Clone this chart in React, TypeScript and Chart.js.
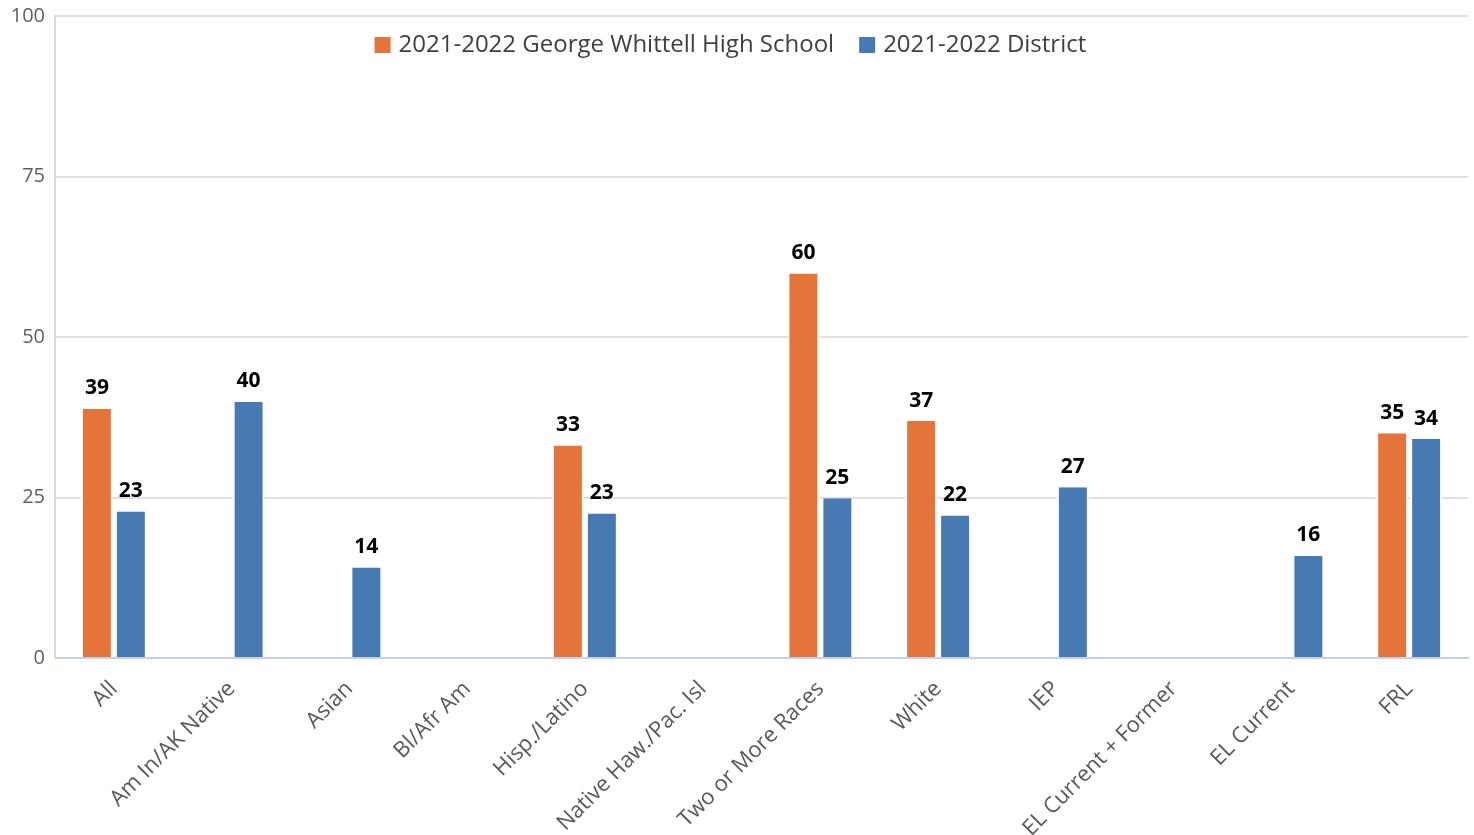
import React, { useEffect, useRef } from "react";
import { Chart, registerables } from "chart.js";

Chart.register(...registerables);

const categories = [
  "All",
  "Am In/AK Native",
  "Asian",
  "Bl/Afr Am",
  "Hisp./Latino",
  "Native Haw./Pac. Isl",
  "Two or More Races",
  "White",
  "IEP",
  "EL Current + Former",
  "EL Current",
  "FRL",
];
const schoolLabel = "2021-2022 George Whittell High School";
const districtLabel = "2021-2022 District";
const schoolValues: (number | null)[] = [38.8, null, null, null, 33.1, null, 59.9, 36.9, null, null, null, 35.0];
const districtValues: (number | null)[] = [22.8, 39.9, 14.1, null, 22.5, null, 24.9, 22.2, 26.6, null, 15.9, 34.1];
const yTicks = [0, 25, 50, 75, 100];

const ORANGE = "#E4743A";
const BLUE = "#477AB3";
const FONT = "'Open Sans', 'Noto Sans', sans-serif";

const dataLabelPlugin = {
  id: "dataLabels",
  afterDatasetsDraw(chart: any) {
    const ctx = chart.ctx;
    ctx.save();
    ctx.font = `bold 21px ${FONT}`;
    ctx.fillStyle = "#000";
    ctx.textAlign = "center";
    ctx.textBaseline = "bottom";
    chart.data.datasets.forEach((ds: any, di: number) => {
      const meta = chart.getDatasetMeta(di);
      meta.data.forEach((bar: any, i: number) => {
        const v = ds.data[i];
        if (v == null) return;
        ctx.fillText(String(Math.round(v)), bar.x, bar.y - 10);
      });
    });
    ctx.restore();
  },
};

const legendPlugin = {
  id: "customLegend",
  afterDraw(chart: any) {
    const ctx = chart.ctx;
    const area = chart.chartArea;
    ctx.save();
    ctx.font = `24px ${FONT}`;
    const items = [
      { label: schoolLabel, color: ORANGE },
      { label: districtLabel, color: BLUE },
    ];
    const box = 16;
    const boxGap = 8;
    const itemGap = 25;
    const widths = items.map((it) => box + boxGap + ctx.measureText(it.label).width);
    const total = widths.reduce((a, b) => a + b, 0) + itemGap * (items.length - 1);
    const cx = area.left + (area.right - area.left) * 0.478;
    let x = cx - total / 2;
    const y = area.top + 29;
    items.forEach((it, i) => {
      ctx.fillStyle = it.color;
      ctx.fillRect(x, y - box / 2, box, box);
      ctx.fillStyle = "#404040";
      ctx.textBaseline = "middle";
      ctx.textAlign = "left";
      ctx.fillText(it.label, x + box + boxGap, y);
      x += widths[i] + itemGap;
    });
    ctx.restore();
  },
};

const barBorder = { top: 0, bottom: 0, left: 2, right: 2 };

export default function App() {
  const ref = useRef<HTMLCanvasElement>(null);
  useEffect(() => {
    if (!ref.current) return;
    const chart = new Chart(ref.current, {
      type: "bar",
      data: {
        labels: categories,
        datasets: [
          {
            label: schoolLabel,
            data: schoolValues,
            backgroundColor: ORANGE,
            borderColor: "#ffffff",
            borderWidth: barBorder,
            borderSkipped: false,
            barPercentage: 0.94,
            categoryPercentage: 0.577,
          },
          {
            label: districtLabel,
            data: districtValues,
            backgroundColor: BLUE,
            borderColor: "#ffffff",
            borderWidth: barBorder,
            borderSkipped: false,
            barPercentage: 0.94,
            categoryPercentage: 0.577,
          },
        ],
      },
      options: {
        animation: false,
        responsive: false,
        maintainAspectRatio: false,
        layout: { padding: { top: 16, right: 6, left: 0, bottom: 0 } },
        plugins: {
          legend: { display: false },
          tooltip: { enabled: false },
        },
        scales: {
          x: {
            grid: { display: false, drawTicks: false },
            border: { display: true, color: "#C7D1E5", width: 2 },
            ticks: {
              color: "#595959",
              font: { family: FONT, size: 22 },
              minRotation: 45,
              maxRotation: 45,
              autoSkip: false,
              padding: 18,
            },
            afterFit(scale: any) {
              scale.height = 177;
              scale.paddingLeft = 0;
              scale.paddingRight = 0;
            },
          },
          y: {
            min: 0,
            max: 100,
            afterBuildTicks(scale: any) {
              scale.ticks = yTicks.map((v) => ({ value: v }));
            },
            grid: { color: "#E0E0E0", lineWidth: 2, drawTicks: false },
            border: { display: true, color: "#D9D9D9", width: 2 },
            ticks: {
              color: "#606060",
              font: { family: FONT, size: 20 },
              padding: 10,
            },
            afterFit(scale: any) {
              scale.width = 55;
              scale.paddingTop = 0;
              scale.paddingBottom = 0;
            },
          },
        },
      },
      plugins: [dataLabelPlugin, legendPlugin],
    });
    return () => chart.destroy();
  }, []);
  return (
    <div style={{ position: "fixed", left: 0, top: 0, width: 1474, height: 835, background: "#fff" }}>
      <canvas ref={ref} width={1474} height={835} style={{ width: 1474, height: 835 }} />
    </div>
  );
}
